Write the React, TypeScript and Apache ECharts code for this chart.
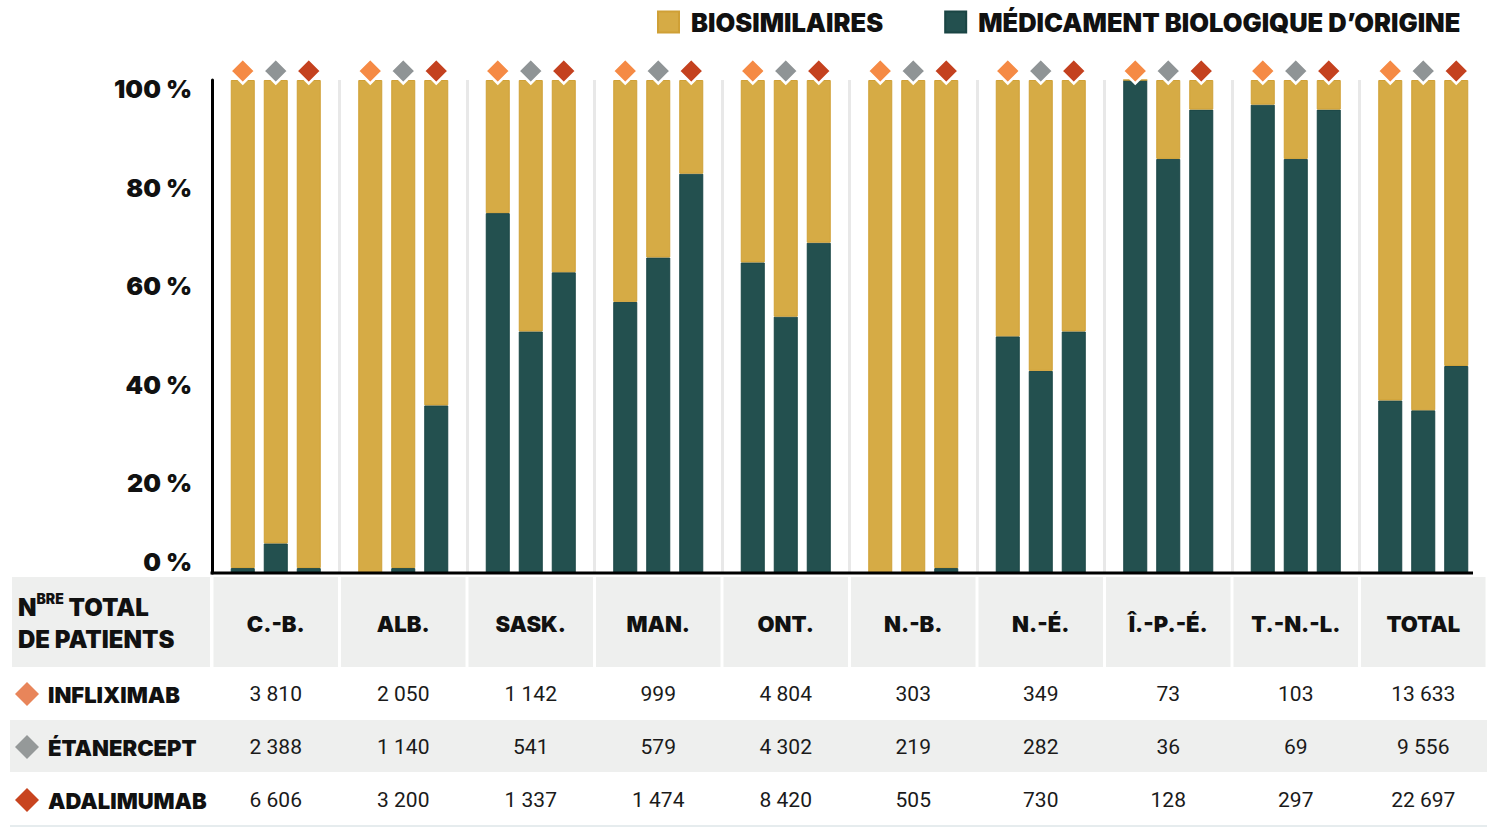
import React, { useEffect, useRef } from 'react';
import * as echarts from 'echarts';

// ---- Data ----
const categories = ['C.-B.', 'ALB.', 'SASK.', 'MAN.', 'ONT.', 'N.-B.', 'N.-É.', 'Î.-P.-É.', 'T.-N.-L.', 'TOTAL'];
const drugs = ['INFLIXIMAB', 'ÉTANERCEPT', 'ADALIMUMAB'];
const legendNames = ['BIOSIMILAIRES', 'MÉDICAMENT BIOLOGIQUE D’ORIGINE'];
// share (%) of patients on the original biologic
const originInfliximab = [1, 0, 73, 55, 63, 0, 48, 100, 95, 35];
const originEtanercept = [6, 1, 49, 64, 52, 0, 41, 84, 84, 33];
const originAdalimumab = [1, 34, 61, 81, 67, 1, 49, 94, 94, 42];
// total number of patients
const patientsInfliximab = [3810, 2050, 1142, 999, 4804, 303, 349, 73, 103, 13633];
const patientsEtanercept = [2388, 1140, 541, 579, 4302, 219, 282, 36, 69, 9556];
const patientsAdalimumab = [6606, 3200, 1337, 1474, 8420, 505, 730, 128, 297, 22697];
const yMin = 0;
const yMax = 100;
const yInterval = 20;
const headerLabelLines = ['N', 'BRE', ' TOTAL', 'DE PATIENTS'];

const originShares = [originInfliximab, originEtanercept, originAdalimumab];
const patients = [patientsInfliximab, patientsEtanercept, patientsAdalimumab];

// ---- Styles ----
const GOLD = '#D6AB45';
const GOLD_B = '#CFA036';
const DARK = '#23504F';
const DARK_B = '#1A4544';
const markerColors = ['#F58A45', '#8F9496', '#C4411F'];
const rowMarkerColors = ['#E8855A', '#959999', '#C8441F'];
const HEAVY = 'Inter';
const CELL_BG = '#EEEFEE';

const fmt = (n: number) => String(n).replace(/\B(?=(\d{3})+(?!\d))/g, ' ');

export default function App() {
  const ref = useRef<HTMLDivElement>(null);

  useEffect(() => {
    if (!ref.current) return;
    const chart = echarts.init(ref.current, null, { renderer: 'svg' });

    const series: any[] = [];
    originShares.forEach((shares, d) => {
      series.push({
        type: 'bar',
        name: legendNames[1],
        stack: 'drug' + d,
        data: shares,
        barWidth: 24,
        barGap: '37.5%',
        itemStyle: { color: DARK, borderColor: DARK_B, borderWidth: 1 },
      });
      series.push({
        type: 'bar',
        name: legendNames[0],
        stack: 'drug' + d,
        data: shares.map((v) => 100 - v),
        barWidth: 24,
        barGap: '37.5%',
        itemStyle: { color: GOLD, borderColor: GOLD_B, borderWidth: 1 },
        markPoint: {
          symbol: 'diamond',
          symbolSize: [25, 25],
          symbolOffset: [0, -9],
          label: { show: false },
          silent: true,
          itemStyle: { color: markerColors[d], borderColor: '#ffffff', borderWidth: 2.5 },
          data: categories.map((_, i) => ({ coord: [i, yMax] })),
        },
      });
    });

    const option: any = {
      animation: false,
      grid: { left: 212, right: 13, top: 80, bottom: 266, containLabel: false },
      legend: {
        data: legendNames,
        left: 657,
        top: 9,
        padding: 0,
        icon: 'rect',
        itemWidth: 21,
        itemHeight: 21,
        itemGap: 61,
        selectedMode: false,
        textStyle: {
          fontFamily: HEAVY,
          fontWeight: 900,
          fontSize: 25.5,
          color: '#111111',
          padding: [0, 0, 0, 7],
        },
      },
      xAxis: {
        type: 'category',
        data: categories,
        axisLine: { show: false },
        axisTick: { show: false },
        axisLabel: { show: false },
        splitLine: {
          show: true,
          showMinLine: false,
          showMaxLine: false,
          lineStyle: { color: '#E8E8E8', width: 3 },
        },
      },
      yAxis: {
        type: 'value',
        min: yMin,
        max: yMax,
        interval: yInterval,
        axisLine: { show: true, lineStyle: { color: '#000000', width: 3 } },
        axisTick: { show: false },
        splitLine: { show: false },
        axisLabel: {
          margin: 20,
          formatter: (v: number) => (v === 0 ? `{z|${v} %}` : `{a|${v} %}`),
          rich: {
            a: { fontFamily: HEAVY, fontWeight: 900, fontSize: 25, color: '#111111', padding: [18, 0, 0, 0] },
            z: { fontFamily: HEAVY, fontWeight: 900, fontSize: 25, color: '#111111', padding: [0, 0, 22, 0] },
          },
        },
      },
      series,
    };

    chart.setOption(option);

    // ---- Table below the plot, positioned from the category axis ----
    const cx = categories.map((c) => chart.convertToPixel({ xAxisIndex: 0 }, c) as number);
    const colW = cx[1] - cx[0];
    const y0 = chart.convertToPixel({ yAxisIndex: 0 }, yMin) as number;
    const tableLeft = 10;
    const tableRight = cx[cx.length - 1] + colW / 2;
    const headTop = y0 + 4;
    const headH = 90;
    const rowCenters = [694, 747, 800];

    const g: any[] = [];
    // baseline (x axis line)
    g.push({
      type: 'line',
      shape: { x1: cx[0] - colW / 2 - 1.5, y1: y0, x2: cx[cx.length - 1] + colW / 2 - 14, y2: y0 },
      style: { stroke: '#000000', lineWidth: 3 },
      z: 10,
    });
    // header cells
    g.push({ type: 'rect', shape: { x: 12, y: headTop, width: 198, height: headH }, style: { fill: CELL_BG } });
    g.push({
      type: 'text',
      x: 18,
      y: headTop + 14,
      style: {
        text: `{n|${headerLabelLines[0]}}{s|${headerLabelLines[1]}}{n|${headerLabelLines[2]}}\n{n|${headerLabelLines[3]}}`,
        verticalAlign: 'top',
        align: 'left',
        rich: {
          n: { fontFamily: HEAVY, fontWeight: 900, fontSize: 24, lineHeight: 32, fill: '#111111' },
          s: { fontFamily: HEAVY, fontWeight: 900, fontSize: 14, lineHeight: 22, verticalAlign: 'top', fill: '#111111' },
        },
      },
    });
    categories.forEach((c, i) => {
      g.push({
        type: 'rect',
        shape: { x: cx[i] - colW / 2 + 1.5, y: headTop, width: colW - 3, height: headH },
        style: { fill: CELL_BG },
      });
      g.push({
        type: 'text',
        x: cx[i],
        y: headTop + headH / 2 + 2,
        style: {
          text: c,
          align: 'center',
          verticalAlign: 'middle',
          fontFamily: HEAVY,
          fontWeight: 900,
          fontSize: 22,
          fill: '#111111',
        },
      });
    });
    // gray middle row
    g.push({ type: 'rect', shape: { x: tableLeft, y: 720, width: tableRight - tableLeft, height: 52 }, style: { fill: CELL_BG } });
    // bottom rule
    g.push({ type: 'rect', shape: { x: tableLeft, y: 825, width: tableRight - tableLeft, height: 2 }, style: { fill: '#E6ECEE' } });

    drugs.forEach((name, d) => {
      const cy = rowCenters[d];
      g.push({
        type: 'rect',
        x: 27,
        y: cy,
        rotation: Math.PI / 4,
        shape: { x: -8.5, y: -8.5, width: 17, height: 17 },
        style: { fill: rowMarkerColors[d] },
      });
      g.push({
        type: 'text',
        x: 48,
        y: cy + 1,
        style: {
          text: name,
          align: 'left',
          verticalAlign: 'middle',
          fontFamily: HEAVY,
          fontWeight: 900,
          fontSize: 22,
          fill: '#111111',
        },
      });
      patients[d].forEach((n, i) => {
        g.push({
          type: 'text',
          x: cx[i],
          y: cy,
          style: {
            text: fmt(n),
            align: 'center',
            verticalAlign: 'middle',
            fontFamily: 'Roboto',
            fontWeight: 400,
            fontSize: 21,
            fill: '#1A1A1A',
          },
        });
      });
    });

    chart.setOption({ graphic: g });

    return () => chart.dispose();
  }, []);

  return (
    <div
      ref={ref}
      style={{ position: 'fixed', left: 0, top: 0, width: 1500, height: 839, background: '#ffffff' }}
    />
  );
}
